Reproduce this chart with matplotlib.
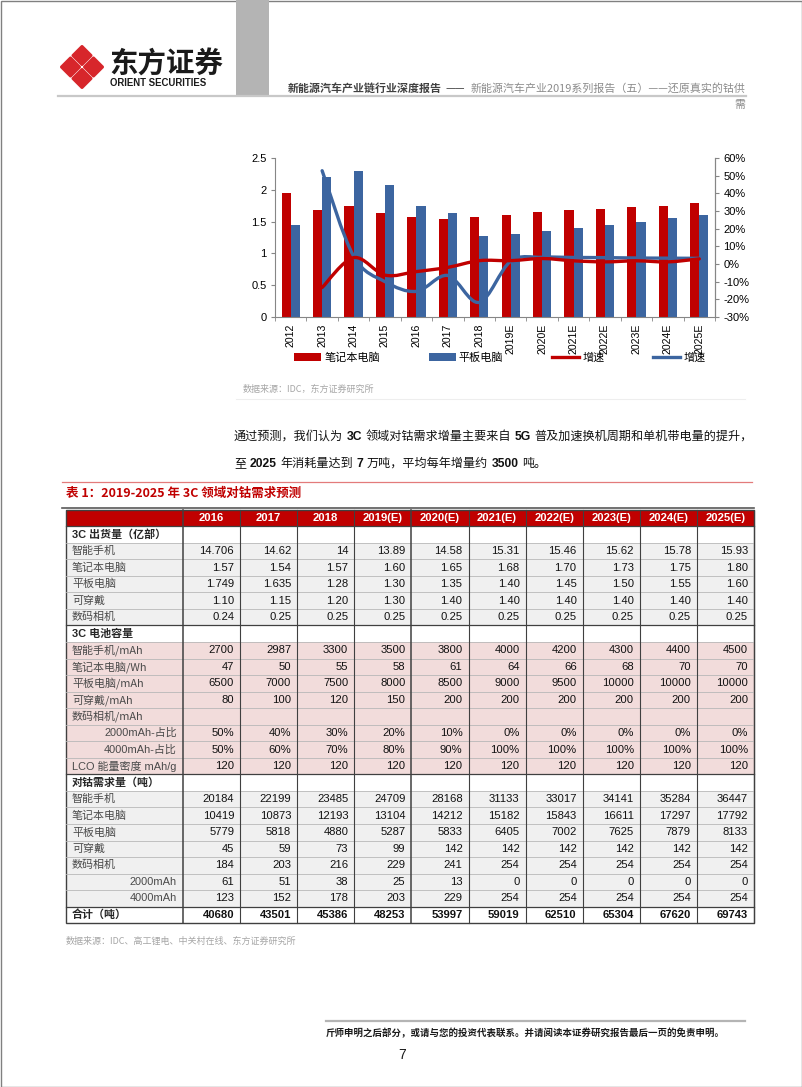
import numpy as np
import matplotlib
matplotlib.use('Agg')
import matplotlib.pyplot as plt
from matplotlib.path import Path
from matplotlib.patches import PathPatch, Rectangle, Polygon, Patch
from matplotlib.lines import Line2D
from matplotlib import font_manager

CJK = ['Noto Sans CJK SC', 'DejaVu Sans']
plt.rcParams['font.family'] = CJK
_names = {f.name for f in font_manager.fontManager.ttflist}
if 'Liberation Sans Narrow' in _names:
    NUM, NUM_SIZE = 'Liberation Sans Narrow', 9.4
else:
    NUM, NUM_SIZE = 'Liberation Sans', 8.1

# ---- chart data ----
chart_years = ['2012', '2013', '2014', '2015', '2016', '2017', '2018',
               '2019E', '2020E', '2021E', '2022E', '2023E', '2024E', '2025E']
notebook = [1.95, 1.69, 1.75, 1.64, 1.57, 1.54, 1.57, 1.60, 1.65, 1.68, 1.70, 1.73, 1.75, 1.80]
tablet = [1.44, 2.20, 2.30, 2.07, 1.75, 1.635, 1.28, 1.30, 1.35, 1.40, 1.45, 1.50, 1.55, 1.60]
# growth rates in %, 2013 .. 2025E
notebook_growth = [-13.3, 3.6, -6.3, -4.3, -1.9, 1.9, 1.9, 3.1, 1.8, 1.2, 1.8, 1.2, 2.9]
tablet_growth = [52.8, 4.5, -10.0, -15.5, -6.5, -21.7, 1.6, 3.8, 3.7, 3.6, 3.4, 3.3, 3.2]

# ---- table data ----
table_years = ['2016', '2017', '2018', '2019(E)', '2020(E)', '2021(E)',
               '2022(E)', '2023(E)', '2024(E)', '2025(E)']
ship_labels = ['智能手机', '笔记本电脑', '平板电脑', '可穿戴', '数码相机']
ship_values = [
    ['14.706', '14.62', '14', '13.89', '14.58', '15.31', '15.46', '15.62', '15.78', '15.93'],
    ['1.57', '1.54', '1.57', '1.60', '1.65', '1.68', '1.70', '1.73', '1.75', '1.80'],
    ['1.749', '1.635', '1.28', '1.30', '1.35', '1.40', '1.45', '1.50', '1.55', '1.60'],
    ['1.10', '1.15', '1.20', '1.30', '1.40', '1.40', '1.40', '1.40', '1.40', '1.40'],
    ['0.24', '0.25', '0.25', '0.25', '0.25', '0.25', '0.25', '0.25', '0.25', '0.25'],
]
cap_labels = ['智能手机/mAh', '笔记本电脑/Wh', '平板电脑/mAh', '可穿戴/mAh', '数码相机/mAh',
              '2000mAh-占比', '4000mAh-占比', 'LCO 能量密度 mAh/g']
cap_values = [
    ['2700', '2987', '3300', '3500', '3800', '4000', '4200', '4300', '4400', '4500'],
    ['47', '50', '55', '58', '61', '64', '66', '68', '70', '70'],
    ['6500', '7000', '7500', '8000', '8500', '9000', '9500', '10000', '10000', '10000'],
    ['80', '100', '120', '150', '200', '200', '200', '200', '200', '200'],
    [''] * 10,
    ['50%', '40%', '30%', '20%', '10%', '0%', '0%', '0%', '0%', '0%'],
    ['50%', '60%', '70%', '80%', '90%', '100%', '100%', '100%', '100%', '100%'],
    ['120'] * 10,
]
demand_labels = ['智能手机', '笔记本电脑', '平板电脑', '可穿戴', '数码相机', '2000mAh', '4000mAh']
demand_values = [
    ['20184', '22199', '23485', '24709', '28168', '31133', '33017', '34141', '35284', '36447'],
    ['10419', '10873', '12193', '13104', '14212', '15182', '15843', '16611', '17297', '17792'],
    ['5779', '5818', '4880', '5287', '5833', '6405', '7002', '7625', '7879', '8133'],
    ['45', '59', '73', '99', '142', '142', '142', '142', '142', '142'],
    ['184', '203', '216', '229', '241', '254', '254', '254', '254', '254'],
    ['61', '51', '38', '25', '13', '0', '0', '0', '0', '0'],
    ['123', '152', '178', '203', '229', '254', '254', '254', '254', '254'],
]
total_values = ['40680', '43501', '45386', '48253', '53997', '59019', '62510', '65304', '67620', '69743']

RED = '#C00000'
BLUE = '#3C65A0'

fig = plt.figure(figsize=(8.02, 10.87), dpi=100)
page = fig.add_axes([0, 0, 1, 1])
page.set_xlim(0, 802)
page.set_ylim(1087, 0)
page.axis('off')
renderer = fig.canvas.get_renderer()


def draw_runs(x, y, parts, size):
    # parts: (text, weight, color, family, gap after)
    for text, weight, color, fam, gap in parts:
        t = page.text(x, y, text, fontsize=size, fontweight=weight, color=color,
                      family=fam, va='baseline', ha='left')
        x += t.get_window_extent(renderer).width + gap
    return x


def smooth_path(xs, ys):
    pts = np.column_stack([xs, ys])
    ext = np.vstack([pts[0], pts, pts[-1]])
    verts, codes = [pts[0]], [Path.MOVETO]
    for i in range(len(pts) - 1):
        p0, p1, p2, p3 = ext[i], ext[i + 1], ext[i + 2], ext[i + 3]
        verts += [p1 + (p2 - p0) / 6, p2 - (p3 - p1) / 6, p2]
        codes += [Path.CURVE4] * 3
    return Path(verts, codes)


# ---- page frame & header ----
page.add_patch(Rectangle((0.5, 0.5), 801, 1086, fill=False, ec='#808080', lw=1))
page.add_patch(Rectangle((236, 0), 33, 95, fc='#B4B4B4', ec='none'))
page.plot([58, 746], [95.5, 95.5], color='#C8C8C8', lw=1.6)

# logo
cx, cy, off, r = 82, 67, 11.5, 9.0
for dx, dy in [(0, -off), (-off, 0), (off, 0), (0, off)]:
    x0, y0 = cx + dx, cy + dy
    page.add_patch(Polygon([(x0, y0 - r), (x0 + r, y0), (x0, y0 + r), (x0 - r, y0)],
                           closed=True, fc='#D7262B', ec='#D7262B', lw=2.2, joinstyle='round'))
page.text(109, 65, '东方证券', fontsize=20.5, fontweight='bold', color='#1A1A1A',
          va='center', ha='left')
page.text(110, 83, 'ORIENT SECURITIES', fontsize=6.9, fontweight='bold', color='#1A1A1A',
          family='Liberation Sans', va='center', ha='left')

draw_runs(288, 92, [
    ('新能源汽车产业链行业深度报告', 'bold', '#404040', CJK, 4),
    ('——', 'normal', '#404040', CJK, 5),
    ('新能源汽车产业2019系列报告（五）——还原真实的钴供', 'normal', '#8C8C8C', CJK, 0),
], 7.9)
page.text(745, 108, '需', fontsize=7.9, color='#8C8C8C', ha='right', va='baseline')

# ---- chart ----
ax = fig.add_axes([275 / 802, 1 - 317 / 1087, 440 / 802, 159 / 1087])
ax.patch.set_visible(False)
x = np.arange(len(chart_years))
bw = 0.29
ax.bar(x - bw / 2, notebook, bw, color=RED, zorder=2)
ax.bar(x + bw / 2, tablet, bw, color=BLUE, zorder=2)
ax.set_xlim(-0.5, len(chart_years) - 0.5)
ax.set_ylim(0, 2.5)
ax.set_yticks([0, 0.5, 1, 1.5, 2, 2.5])
ax.set_yticklabels(['0', '0.5', '1', '1.5', '2', '2.5'], family='Liberation Sans', fontsize=8)
ax.set_xticks(x)
ax.set_xticklabels(chart_years, rotation=90, family='Liberation Sans', fontsize=7.6)
ax.set_xticks(np.arange(-0.5, len(chart_years), 1), minor=True)
ax.tick_params(axis='x', which='major', length=0, pad=5)
ax.tick_params(axis='x', which='minor', length=3, color='#868686')
ax.tick_params(axis='y', length=3, color='#868686', pad=3)
ax.spines['top'].set_visible(False)
for s in ['left', 'bottom', 'right']:
    ax.spines[s].set_color('#868686')

ax2 = ax.twinx()
ax2.set_ylim(-0.3, 0.6)
pct = np.arange(-0.3, 0.61, 0.1)
ax2.set_yticks(pct)
ax2.set_yticklabels(['%d%%' % round(v * 100) for v in pct], family='Liberation Sans', fontsize=8)
ax2.tick_params(axis='y', length=3, color='#868686', pad=3)
for s in ['top', 'left', 'bottom']:
    ax2.spines[s].set_visible(False)
ax2.spines['right'].set_color('#868686')
xg = x[1:]
ax2.add_patch(PathPatch(smooth_path(xg, np.array(tablet_growth) / 100), fill=False,
                        ec=BLUE, lw=2.4, capstyle='round', zorder=3))
ax2.add_patch(PathPatch(smooth_path(xg, np.array(notebook_growth) / 100), fill=False,
                        ec=RED, lw=2.4, capstyle='round', zorder=4))

handles = [Patch(fc=RED), Patch(fc=BLUE), Line2D([], [], color=RED, lw=2.4),
           Line2D([], [], color=BLUE, lw=2.4)]
fig.legend(handles, ['笔记本电脑', '平板电脑', '增速', '增速'], ncol=4, loc='center',
           bbox_to_anchor=(500 / 802, 1 - 358 / 1087), frameon=False, fontsize=8,
           handlelength=2.4, handletextpad=0.3, columnspacing=4.4, borderpad=0)

page.text(243, 389, '数据来源：IDC，东方证券研究所', fontsize=6.5, color='#A6A6A6', va='center')
page.plot([236, 745], [398.5, 398.5], color='#EEEEEE', lw=0.8)

# ---- paragraph ----
NB = ['Liberation Sans']
draw_runs(234, 440, [
    ('通过预测，我们认为', 'normal', '#111111', CJK, 3.5),
    ('3C', 'bold', '#111111', NB, 3.5),
    ('领域对钴需求增量主要来自', 'normal', '#111111', CJK, 3.5),
    ('5G', 'bold', '#111111', NB, 3.5),
    ('普及加速换机周期和单机带电量的提升，', 'normal', '#111111', CJK, 0),
], 8.7)
draw_runs(234, 467, [
    ('至', 'normal', '#111111', CJK, 3.5),
    ('2025', 'bold', '#111111', NB, 3.5),
    ('年消耗量达到', 'normal', '#111111', CJK, 3.5),
    ('7', 'bold', '#111111', NB, 3.5),
    ('万吨，平均每年增量约', 'normal', '#111111', CJK, 3.5),
    ('3500', 'bold', '#111111', NB, 3.5),
    ('吨。', 'normal', '#111111', CJK, 0),
], 8.7)

# ---- table title ----
page.plot([62, 752], [481.5, 481.5], color='#E37B7B', lw=0.9)
page.text(66, 493, '表 1：2019-2025 年 3C 领域对钴需求预测', fontsize=9, fontweight='bold',
          color=RED, va='center')
page.plot([62, 754], [507.5, 507.5], color='#595959', lw=1.2)

# ---- table ----
rows = [('3C 出货量（亿部）', None, 'section', 'left')]
rows += [(l, v, 'gray', 'left') for l, v in zip(ship_labels, ship_values)]
rows += [('3C 电池容量', None, 'section', 'left')]
rows += [(l, v, 'pink', 'right' if '占比' in l else 'left') for l, v in zip(cap_labels, cap_values)]
rows += [('对钴需求量（吨）', None, 'section', 'left')]
rows += [(l, v, 'gray', 'right' if l.endswith('mAh') else 'left')
         for l, v in zip(demand_labels, demand_values)]
rows += [('合计（吨）', total_values, 'total', 'left')]

T_LEFT, T_LAB, T_RIGHT = 65.5, 183.0, 754.0
T_TOP, RH = 509.7, 16.54
col_w = (T_RIGHT - T_LAB) / len(table_years)
fills = {'section': 'white', 'gray': '#F0F0F0', 'pink': '#F2DCDB', 'total': 'white'}

# header
page.add_patch(Rectangle((T_LEFT, T_TOP), T_RIGHT - T_LEFT, RH, fc=RED, ec='none'))
for j, yr in enumerate(table_years):
    page.text(T_LAB + (j + 0.5) * col_w, T_TOP + RH / 2, yr, fontsize=NUM_SIZE, family=NUM,
              fontweight='bold', color='white', ha='center', va='center')

for i, (lab, vals, kind, align) in enumerate(rows, start=1):
    y0 = T_TOP + i * RH
    yc = y0 + RH / 2
    page.add_patch(Rectangle((T_LEFT, y0), T_RIGHT - T_LEFT, RH, fc=fills[kind], ec='none'))
    bold = kind in ('section', 'total')
    lx, ha = (72, 'left') if align == 'left' else (177, 'right')
    fam = [NUM] + CJK if lab[0].isascii() else CJK
    page.text(lx, yc, lab, fontsize=7.9, family=fam, fontweight='bold' if bold else 'normal',
              color='#262626' if bold else '#4A4A4A', ha=ha, va='center')
    if vals is None:
        continue
    for j, v in enumerate(vals):
        page.text(T_LAB + (j + 1) * col_w - 6, yc, v, fontsize=NUM_SIZE, family=NUM,
                  fontweight='bold' if bold else 'normal', color='#111111',
                  ha='right', va='center')

n_rows = len(rows) + 1
T_BOT = T_TOP + n_rows * RH
dark_rows = {1, len(rows)} | {k for k, r in enumerate(rows, start=1) if r[2] == 'section'}
for k in range(1, n_rows):
    yk = T_TOP + k * RH
    if k in dark_rows:
        page.plot([T_LEFT, T_RIGHT], [yk, yk], color='#404040', lw=0.9)
    else:
        page.plot([T_LEFT, T_RIGHT], [yk, yk], color='#B8B8B8', lw=0.6)
for j in range(len(table_years) + 1):
    xj = T_LAB + j * col_w
    page.plot([xj, xj], [T_TOP, T_BOT], color='#404040', lw=1.1 if j in (0, 4) else 0.8)
page.add_patch(Rectangle((T_LEFT, T_TOP), T_RIGHT - T_LEFT, T_BOT - T_TOP, fill=False,
                         ec='#404040', lw=1.0))

page.text(66, 941, '数据来源：IDC、高工锂电、中关村在线、东方证券研究所', fontsize=6.5,
          color='#A6A6A6', va='center')

# ---- footer ----
page.plot([326, 745], [1020.5, 1020.5], color='#B4B4B4', lw=1.6)
page.text(326, 1033, '斤师申明之后部分，或请与您的投资代表联系。并请阅读本证券研究报告最后一页的免责申明。',
          fontsize=6.8, fontweight='bold', color='#1A1A1A', va='center')
page.text(402, 1055, '7', fontsize=10, family='Liberation Sans', color='#1A1A1A',
          ha='center', va='center')

fig.savefig('out.png', dpi=100)
